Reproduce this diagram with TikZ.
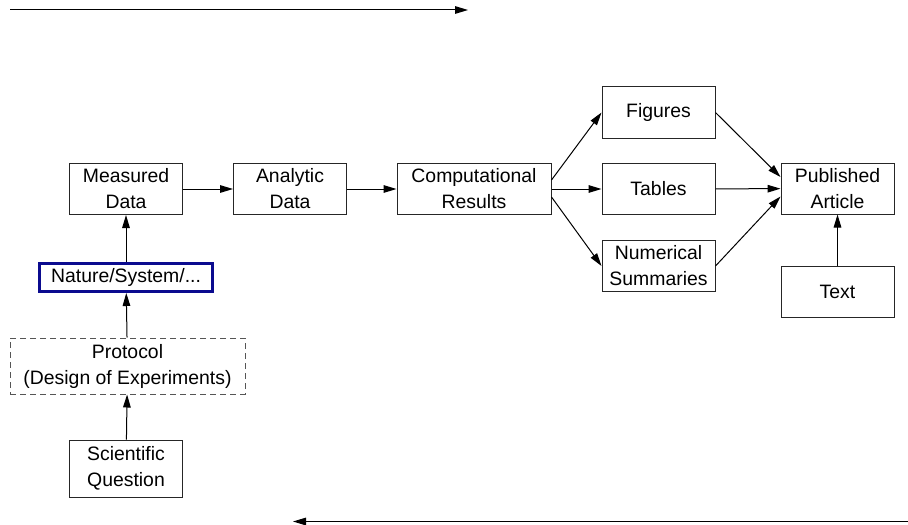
\documentclass[tikz,border=0pt]{standalone}
\usepackage{fontspec}
\setmainfont{Liberation Sans}
\usetikzlibrary{arrows.meta}
\definecolor{wfNavy}{HTML}{0B0B8F}
\definecolor{wfGray}{HTML}{555555}

\begin{document}
\begin{tikzpicture}[
  x=0.5pt,y=-0.5pt,
  every node/.style={font=\fontsize{9.7}{13}\selectfont},
  stage/.style={draw=black!85,line width=0.5pt,minimum width=56.5pt,
    minimum height=25.5pt,align=center,inner sep=1pt},
  link/.style={-{Triangle[length=6.5pt,width=3.8pt]},line width=0.5pt}
]
  \useasboundingbox (0,0) rectangle (908,524);

  \node[stage] (meas) at (126,189) {Measured\\Data};
  \node[stage] (anal) at (290,189) {Analytic\\Data};
  \node[stage,minimum width=77pt] (comp) at (474,189) {Computational\\Results};
  \node[stage] (figs) at (658.5,112.5) {Figures};
  \node[stage] (tabs) at (658.5,189) {Tables};
  \node[stage] (nums) at (658.5,266) {Numerical\\Summaries};
  \node[stage] (pub) at (837.5,188.5) {Published\\Article};
  \node[stage] (text) at (837.5,291.5) {Text};
  \node[stage,draw=wfNavy,line width=1.5pt,minimum width=86.5pt,
    minimum height=14pt] (nature) at (126,277.5) {Nature/System/...};
  \node[stage,draw=wfGray,dash pattern=on 3pt off 2pt,minimum width=117.5pt,
    minimum height=28pt] (proto) at (127.5,366) {Protocol\\(Design of Experiments)};
  \node[stage,minimum height=28.5pt] (quest) at (126,468.5) {Scientific\\Question};

  \draw[link] (meas) -- (anal);
  \draw[link] (anal) -- (comp);
  \draw[link] ([yshift=4.5pt]comp.east) -- (figs.west);
  \draw[link] (comp) -- (tabs);
  \draw[link] ([yshift=-4pt]comp.east) -- (nums.west);
  \draw[link] (figs.east) -- ([yshift=5.75pt]pub.west);
  \draw[link] (tabs) -- (pub);
  \draw[link] (nums.east) -- ([yshift=-4pt]pub.west);
  \draw[link] (text) -- (pub);
  \draw[link] (nature) -- (meas);
  \draw[link] (proto) -- (nature);
  \draw[link] (quest) -- (proto);

  \coordinate (topL) at (10,10);
  \coordinate (topR) at (468,10);
  \coordinate (botR) at (908,521.5);
  \coordinate (botL) at (293,521.5);
  \draw[link] (topL) -- (topR);
  \draw[link] (botR) -- (botL);
\end{tikzpicture}
\end{document}
